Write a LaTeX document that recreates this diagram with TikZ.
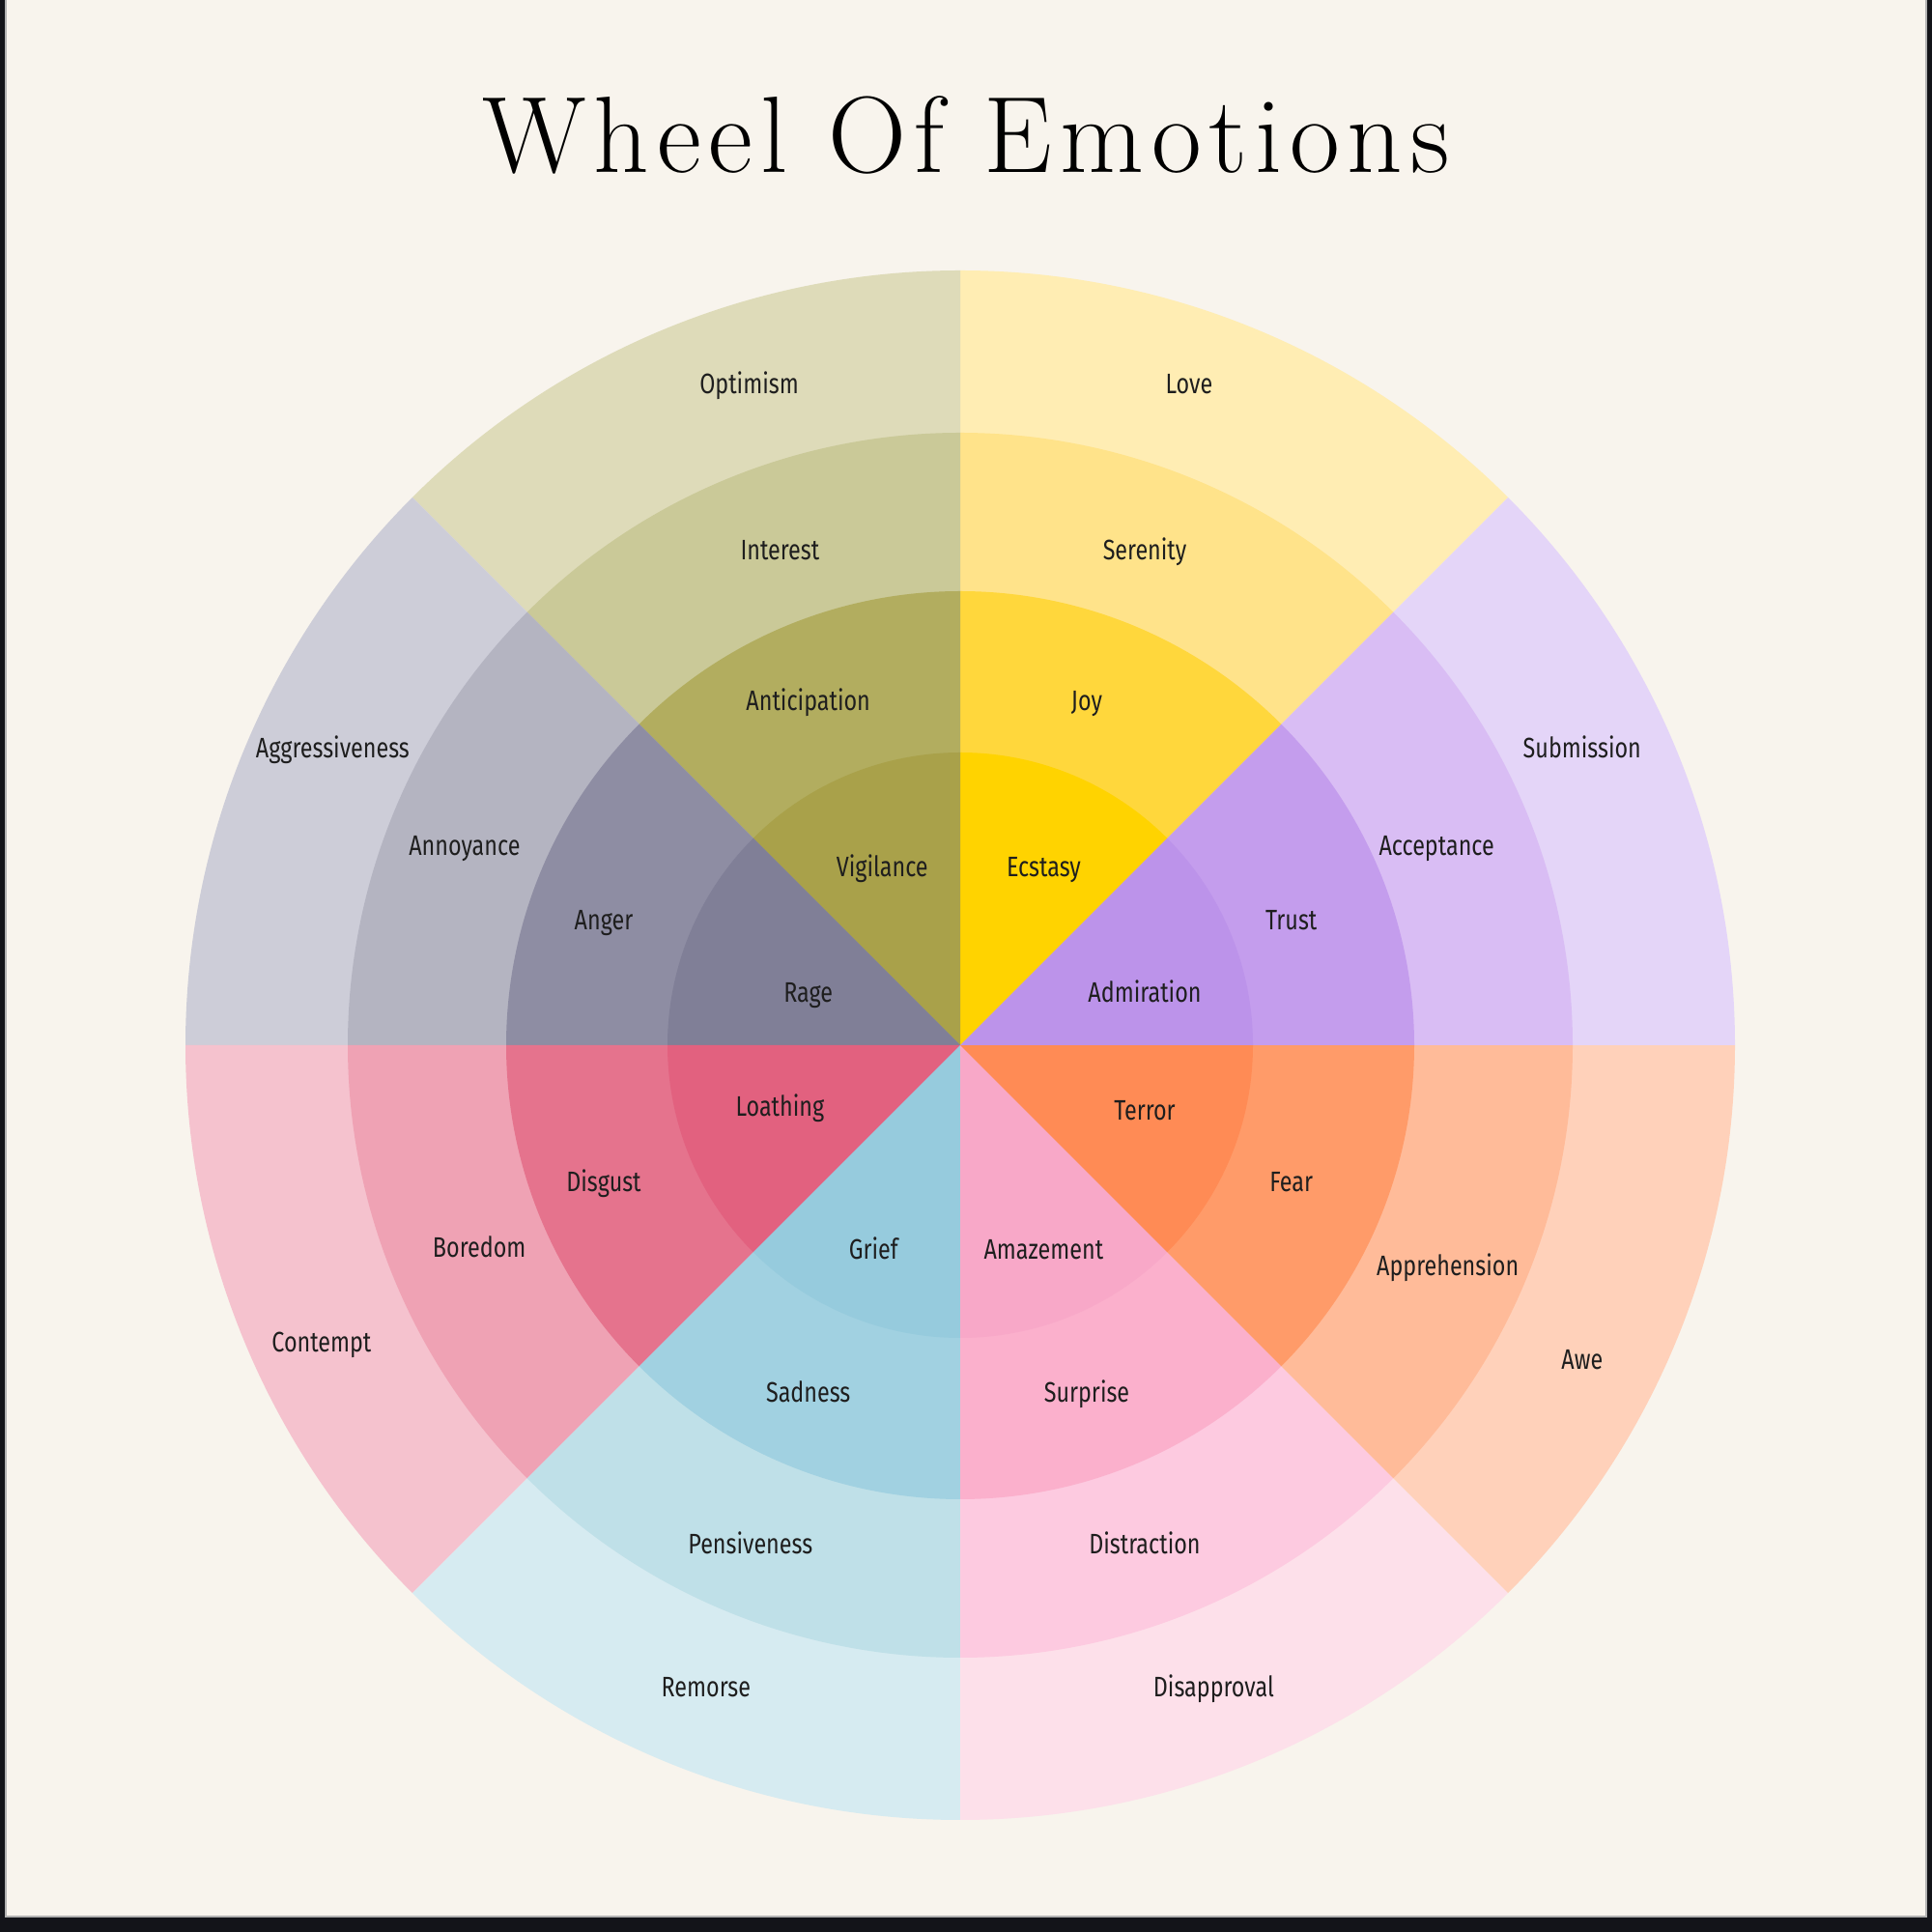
\documentclass[tikz,border=0pt]{standalone}
\usepackage{fontspec}
\usepackage{tikz}
\usepackage{xcolor}
\usetikzlibrary{positioning}

\newfontfamily\labelfont[FakeStretch=0.8]{Fira Sans}
\newfontfamily\titlefont[LetterSpace=7]{Latin Modern Roman}

\definecolor{paper}{HTML}{F8F4ED}
\definecolor{frame}{HTML}{131419}
\definecolor{ink}{HTML}{1E1E1E}
% outer ring
\definecolor{optimism}{HTML}{DEDBB9}
\definecolor{love}{HTML}{FFEDB3}
\definecolor{submission}{HTML}{E4D5F8}
\definecolor{aggressiveness}{HTML}{CDCDD8}
\definecolor{contempt}{HTML}{F5C2CE}
\definecolor{remorse}{HTML}{D6EBF1}
\definecolor{disapproval}{HTML}{FDE0EA}
\definecolor{awe}{HTML}{FFD1BA}
% second ring
\definecolor{interest}{HTML}{CAC998}
\definecolor{serenity}{HTML}{FFE38A}
\definecolor{acceptance}{HTML}{D9BDF4}
\definecolor{annoyance}{HTML}{B4B4C1}
\definecolor{boredom}{HTML}{EFA2B4}
\definecolor{pensiveness}{HTML}{BFE0E8}
\definecolor{distraction}{HTML}{FDCAE0}
\definecolor{apprehension}{HTML}{FFBB99}
% third ring
\definecolor{anticipation}{HTML}{B2AD5F}
\definecolor{joy}{HTML}{FFD73C}
\definecolor{trust}{HTML}{C49DED}
\definecolor{anger}{HTML}{8E8DA3}
\definecolor{disgust}{HTML}{E5738D}
\definecolor{sadness}{HTML}{A1D1E1}
\definecolor{surprise}{HTML}{FBB0CC}
\definecolor{fear}{HTML}{FF9B69}
% core
\definecolor{vigilance}{HTML}{A9A14A}
\definecolor{ecstasy}{HTML}{FFD300}
\definecolor{admiration}{HTML}{BC93EA}
\definecolor{rage}{HTML}{807F97}
\definecolor{loathing}{HTML}{E2617F}
\definecolor{grief}{HTML}{96CBDD}
\definecolor{amazement}{HTML}{F8A8C8}
\definecolor{terror}{HTML}{FF8B55}

\begin{document}
\begin{tikzpicture}[emo/.style={font={\labelfont\fontsize{8.3pt}{10pt}\selectfont},text=ink,inner sep=0pt,anchor=mid,yshift=-0.3mm}]
                \useasboundingbox (0,0) rectangle (20,20);
                \fill[frame] (0,0) rectangle (20,20);
                \fill[paper] (0.06,0.16) rectangle (19.94,20);
                \draw[gray!60,line width=0.6pt] (0.06,20) -- (0.06,0.16) -- (19.94,0.16) -- (19.94,20);

                \node[font={\titlefont\fontsize{32pt}{36pt}\selectfont},anchor=base,inner sep=0pt] (title) at (10.0,18.21) {Wheel Of Emotions};

                \begin{scope}[shift={(9.94,9.18)}]
                % outer ring
                \fill[love]           (0,0) -- (45:8.02)  arc (45:90:8.02)   -- cycle;
                \fill[optimism]       (0,0) -- (90:8.02)  arc (90:135:8.02)  -- cycle;
                \fill[aggressiveness] (0,0) -- (135:8.02) arc (135:180:8.02) -- cycle;
                \fill[contempt]       (0,0) -- (180:8.02) arc (180:225:8.02) -- cycle;
                \fill[remorse]        (0,0) -- (225:8.02) arc (225:270:8.02) -- cycle;
                \fill[disapproval]    (0,0) -- (270:8.02) arc (270:315:8.02) -- cycle;
                \fill[awe]            (0,0) -- (315:8.02) arc (315:360:8.02) -- cycle;
                \fill[submission]     (0,0) -- (0:8.02)   arc (0:45:8.02)    -- cycle;
                % second ring
                \fill[serenity]     (0,0) -- (45:6.34)  arc (45:90:6.34)   -- cycle;
                \fill[interest]     (0,0) -- (90:6.34)  arc (90:135:6.34)  -- cycle;
                \fill[annoyance]    (0,0) -- (135:6.34) arc (135:180:6.34) -- cycle;
                \fill[boredom]      (0,0) -- (180:6.34) arc (180:225:6.34) -- cycle;
                \fill[pensiveness]  (0,0) -- (225:6.34) arc (225:270:6.34) -- cycle;
                \fill[distraction]  (0,0) -- (270:6.34) arc (270:315:6.34) -- cycle;
                \fill[apprehension] (0,0) -- (315:6.34) arc (315:360:6.34) -- cycle;
                \fill[acceptance]   (0,0) -- (0:6.34)   arc (0:45:6.34)    -- cycle;
                % third ring
                \fill[joy]          (0,0) -- (45:4.70)  arc (45:90:4.70)   -- cycle;
                \fill[anticipation] (0,0) -- (90:4.70)  arc (90:135:4.70)  -- cycle;
                \fill[anger]        (0,0) -- (135:4.70) arc (135:180:4.70) -- cycle;
                \fill[disgust]      (0,0) -- (180:4.70) arc (180:225:4.70) -- cycle;
                \fill[sadness]      (0,0) -- (225:4.70) arc (225:270:4.70) -- cycle;
                \fill[surprise]     (0,0) -- (270:4.70) arc (270:315:4.70) -- cycle;
                \fill[fear]         (0,0) -- (315:4.70) arc (315:360:4.70) -- cycle;
                \fill[trust]        (0,0) -- (0:4.70)   arc (0:45:4.70)    -- cycle;
                % core
                \fill[ecstasy]    (0,0) -- (45:3.03)  arc (45:90:3.03)   -- cycle;
                \fill[vigilance]  (0,0) -- (90:3.03)  arc (90:135:3.03)  -- cycle;
                \fill[rage]       (0,0) -- (135:3.03) arc (135:180:3.03) -- cycle;
                \fill[loathing]   (0,0) -- (180:3.03) arc (180:225:3.03) -- cycle;
                \fill[grief]      (0,0) -- (225:3.03) arc (225:270:3.03) -- cycle;
                \fill[amazement]  (0,0) -- (270:3.03) arc (270:315:3.03) -- cycle;
                \fill[terror]     (0,0) -- (315:3.03) arc (315:360:3.03) -- cycle;
                \fill[admiration] (0,0) -- (0:3.03)   arc (0:45:3.03)    -- cycle;
                \end{scope}

                \node[emo] (optimism)       at (7.755,16.033) {Optimism};
                \node[emo] (love)           at (12.309,16.033) {Love};
                \node[emo] (interest)       at (8.074,14.311) {Interest};
                \node[emo] (serenity)       at (11.85,14.311) {Serenity};
                \node[emo] (anticipation)   at (8.367,12.755) {Anticipation};
                \node[emo] (joy)            at (11.25,12.755) {Joy};
                \node[emo] (vigilance)      at (9.133,11.033) {Vigilance};
                \node[emo] (ecstasy)        at (10.804,11.033) {Ecstasy};
                \node[emo] (aggressiveness) at (3.444,12.258) {Aggressiveness};
                \node[emo] (submission)     at (16.378,12.258) {Submission};
                \node[emo] (annoyance)      at (4.809,11.25) {Annoyance};
                \node[emo] (acceptance)     at (14.872,11.25) {Acceptance};
                \node[emo] (anger)          at (6.25,10.485) {Anger};
                \node[emo] (trust)          at (13.367,10.485) {Trust};
                \node[emo] (rage)           at (8.367,9.732) {Rage};
                \node[emo] (admiration)     at (11.85,9.732) {Admiration};
                \node[emo] (loathing)       at (8.074,8.546) {Loathing};
                \node[emo] (terror)         at (11.85,8.507) {Terror};
                \node[emo] (disgust)        at (6.25,7.768) {Disgust};
                \node[emo] (fear)           at (13.367,7.768) {Fear};
                \node[emo] (boredom)        at (4.962,7.092) {Boredom};
                \node[emo] (grief)          at (9.043,7.066) {Grief};
                \node[emo] (amazement)      at (10.804,7.066) {Amazement};
                \node[emo] (apprehension)   at (14.987,6.90) {Apprehension};
                \node[emo] (contempt)       at (3.329,6.11) {Contempt};
                \node[emo] (awe)            at (16.378,5.931) {Awe};
                \node[emo] (sadness)        at (8.367,5.587) {Sadness};
                \node[emo] (surprise)       at (11.25,5.587) {Surprise};
                \node[emo] (pensiveness)    at (7.768,4.018) {Pensiveness};
                \node[emo] (distraction)    at (11.85,4.018) {Distraction};
                \node[emo] (remorse)        at (7.309,2.539) {Remorse};
                \node[emo] (disapproval)    at (12.564,2.539) {Disapproval};
            \end{tikzpicture}
\end{document}
